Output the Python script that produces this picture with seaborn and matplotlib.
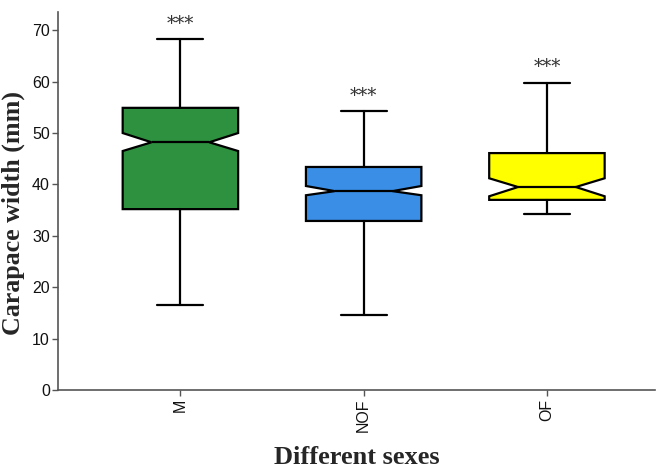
import matplotlib
matplotlib.use("Agg")
import matplotlib.pyplot as plt
import seaborn as sns

# box summaries
groups = ["M", "NOF", "OF"]
whislo = [16.5, 14.6, 34.2]
q1 = [35.2, 32.9, 37.0]
med = [48.2, 38.7, 39.5]
q3 = [54.9, 43.4, 46.1]
whishi = [68.3, 54.3, 59.8]
notch_lo = [46.5, 37.9, 37.7]
notch_hi = [50.0, 39.7, 41.2]
colors = ["#2e9140", "#3a8ee6", "#ffff00"]
signif = ["***", "***", "***"]

sns.set_style("ticks")

stats = []
for i, g in enumerate(groups):
    stats.append(dict(label=g, whislo=whislo[i], q1=q1[i], med=med[i], q3=q3[i],
                      whishi=whishi[i], cilo=notch_lo[i], cihi=notch_hi[i], fliers=[]))

fig = plt.figure(figsize=(6.61, 4.70), dpi=100)
ax = fig.add_axes([0.088, 0.170, 0.903, 0.804])

lw = 1.6
bp = ax.bxp(stats, positions=range(len(groups)), widths=0.63, capwidths=0.25,
            shownotches=True, patch_artist=True, showfliers=False,
            boxprops=dict(linewidth=lw, edgecolor="black"),
            medianprops=dict(color="black", linewidth=lw),
            whiskerprops=dict(color="black", linewidth=lw),
            capprops=dict(color="black", linewidth=lw))
for patch, c in zip(bp["boxes"], colors):
    patch.set_facecolor(c)

for i, s in enumerate(signif):
    ax.text(i, whishi[i] + 1.2, s, ha="center", va="bottom",
            family="DejaVu Serif", fontsize=13, color="#333333")

ax.set_xlim(-0.667, 2.59)
ax.set_ylim(0, 73.5)
ax.set_yticks(range(0, 71, 10))
ax.set_xticks(range(len(groups)))
ax.set_xticklabels(groups, rotation=90, fontsize=11.5, family="Liberation Sans")
for t in ax.get_yticklabels():
    t.set_fontsize(11.5)
    t.set_family("Liberation Sans")

for side in ["top", "right"]:
    ax.spines[side].set_visible(False)
for side in ["left", "bottom"]:
    ax.spines[side].set_color("#555555")
    ax.spines[side].set_linewidth(1.2)
ax.tick_params(color="#555555", labelcolor="#111111", length=4, width=1.0, pad=2)

ax.set_xlabel("Different sexes", family="Liberation Serif", fontweight="bold",
              fontsize=19, labelpad=10)
ax.set_ylabel("Carapace width (mm)", family="Liberation Serif", fontweight="bold",
              fontsize=18.7)
ax.yaxis.set_label_coords(-0.055, 0.468)

fig.savefig("out.png", dpi=100)
